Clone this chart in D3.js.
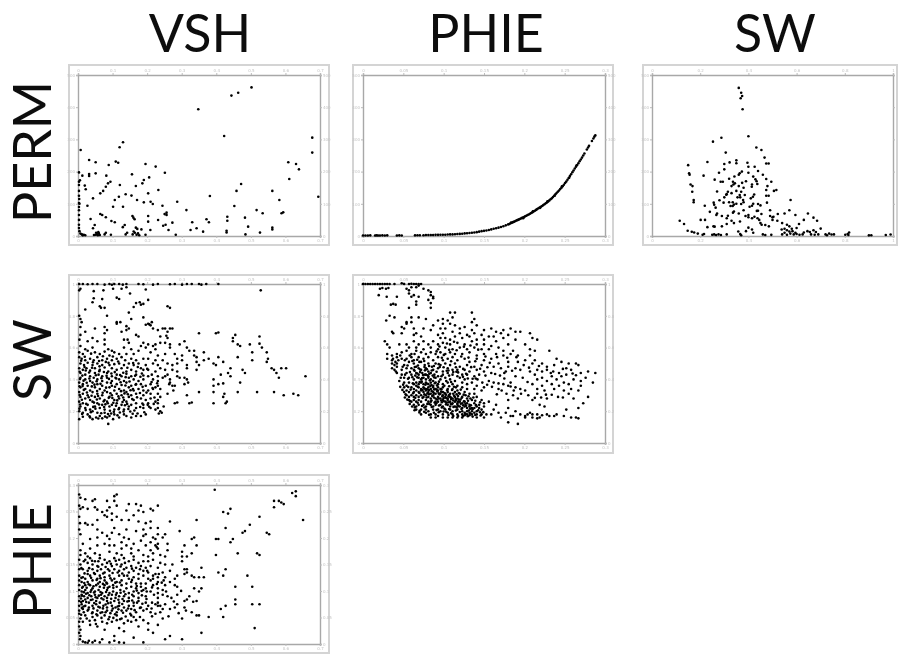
<!DOCTYPE html>
<html>
<head>
<meta charset="utf-8">
<script src="https://cdnjs.cloudflare.com/ajax/libs/d3/7.8.5/d3.min.js"></script>
<style>
  body { margin: 0; background: #fff; }
  .title { font-family: Lato, sans-serif; font-size: 52px; fill: #111; }
  .tick text { font-family: "DejaVu Sans", sans-serif; font-size: 4px; fill: #c4c4c4; }
</style>
</head>
<body>
<div id="chart"></div>
<script>
// all values are percent of the axis range
let columnNames = ["VSH", "PHIE", "SW"];
let rowNames = ["PERM", "SW", "PHIE"];

let vshTicks = ["0", "0.1", "0.2", "0.3", "0.4", "0.5", "0.6", "0.7"];
let phieTicks = ["0", "0.05", "0.1", "0.15", "0.2", "0.25", "0.3"];
let swTicks = ["0", "0.2", "0.4", "0.6", "0.8", "1"];
let permTicks = ["0", "100", "200", "300", "400", "500"];

let permVsh = [[71.7,92.3],[66.2,89],[63.4,87.2],[49.7,78.7],[60.4,62.1],[96.8,61.1],[96.8,51.8],[18.6,58.2],[17.2,55.1],[1.1,53.4],
[4.6,47.2],[7.3,45.8],[15.6,46.2],[16.6,45.5],[12.7,44.1],[27.9,44.7],[32.1,43.1],[86.9,45.8],[90.1,44.7],[91.3,41.4],[35.9,39.3],[22.3,38.3],
[4.6,38.5],[7.3,38.9],[1.8,37.5],[0.4,39.5],[11.7,37.5],[4.6,37.3],[87.3,35.4],[29.4,36.4],[27.2,34.8],[26.6,32.7],[13.4,33.7],[12.4,32.7],
[0.4,33.7],[0.4,31.7],[0.8,34.6],[2.8,31.3],[17.3,31.7],[23.9,31.1],[11.5,30.6],[67.4,32.3],[3.2,29],[10.4,28],[9.2,26.5],[33.2,28.6],[65.5,28],
[80.3,28],[29,26.5],[19.7,25.9],[22.1,25.1],[54.5,24.8],[99.3,24.4],[16.9,24.4],[6.2,23.4],[0.4,25],[83.2,22.4],[15.2,22.4],[24.4,22.4],
[27.2,20.9],[30,21.3],[30.9,19.9],[41,21.3],[14.5,18.2],[18.6,18.2],[3.9,18.8],[0.4,20.5],[0.6,20],[34.9,18.8],[64.6,18.6],[44.8,16.1],[73.8,16.1],
[76.3,14.1],[84.1,14.1],[84.8,14.7],[36.6,14.5],[36.6,13],[35.8,13.6],[9.2,13.7],[10,13],[11.5,11.6],[22.5,12.4],[23.4,10.4],[22.9,11.4],[29,12.4],[61.7,12],
[61.7,9.5],[69,11.4],[5.2,10.6],[13.8,9.3],[15.2,8.5],[29,8.9],[33.1,9.9],[39,8.3],[47.2,8.5],[53.1,10.4],[54.1,8.5],[6.9,6.8],[6.2,4.8],[19.3,6.8],
[18.5,5.5],[23.9,5.2],[24.5,4.4],[26.2,4.1],[29.9,3.7],[35.2,6.4],[36.2,7],[37.4,3.7],[46.5,3.7],[49,4.8],[51.7,2.7],[61.4,3.3],[61.4,2.2],[70.3,5.8],
[80.3,5.2],[80.3,4],[75.2,2.1],[69.2,1],[0.4,16],[0.4,13],[0.4,10],[0.4,7],[0.4,5],[0.6,3],[1,1.5],[1.6,1],[2.4,0.8],[3,0.5],[2,0.4],[6.6,0.6],[7.2,0.8],
[7.9,1],[8.2,0.5],[8.6,1.6],[7.5,2],[8.4,2.4],[9,0.6],[11,1],[11.5,2],[13.6,0.8],[19.7,1],[20.3,2],[22.6,1],[23.5,2],[24.2,0.8],[24.8,1.6],[25.3,0.5],[23,2.8],
[27.9,0.8],[40.4,0.8],[0.4,28],[0.5,23],[0.4,18]];

let permPhie = [[0,0.3],[1,0.3],[2,0.3],[3,0.4],[5,0.3],[5.6,0.4],[6.2,0.3],[7,0.3],[8,0.4],[9,0.3],[10,0.4],[14,0.3],[15,0.4],[16,0.3],
[21.5,0.4],[22.5,0.5],[23.5,0.5],[25,0.5],[26,0.6],[27,0.6],[28,0.6],[29,0.6],[30,0.7],[31,0.7],[32,0.8],[33,0.8],[34,0.8],[35,0.9],[36,1],[37,1],[38,1.1],
[39,1.2],[40,1.3],[41,1.4],[42,1.6],[43,1.7],[44,1.9],[45,2],[46,2.2],[47,2.4],[48,2.7],[49,3],[50,3.2],[51,3.4],[52,3.7],[53,4.1],[54,4.5],[55,4.8],[56,5.2],
[57,5.6],[58,6.1],[59,6.6],[60,7.2],[60.5,7.5],[61,7.9],[61.5,8.2],[62,8.6],[62.5,8.9],[63,9.3],[63.5,9.7],[64,10],[64.5,10.3],[65,10.7],[65.5,11.1],[66,11.4],[66.5,11.8],
[67,12.2],[67.5,12.6],[68,13],[68.5,13.4],[69,13.8],[69.5,14.3],[70,14.7],[70.5,15.2],[71,15.7],[71.5,16.2],[72,16.7],[72.5,17.2],[73,17.7],[73.5,18.1],[74,18.6],[74.5,19.2],
[75,19.7],[75.5,20.3],[76,20.8],[76.5,21.5],[77,22.1],[77.5,22.8],[78,23.4],[78.5,24.2],[79,25],[79.5,25.9],[80,26.7],[80.5,27.5],[81,28.3],[81.5,29.2],[82,30],[82.5,30.9],
[83,31.8],[83.5,32.9],[84,33.8],[84.5,34.9],[85,36],[85.5,37.2],[86,38.4],[86.5,39.6],[87,40.7],[87.5,41.9],[88,43],[88.5,44.1],[89,45.2],[89.5,46.4],[90,47.5],[90.5,48.7],
[91,50],[91.5,51.2],[92.5,53.7],[93,55],[93.4,56],[94.6,59],[95.2,60.6],[95.6,61.7],[96,62.5],[70.2,15.3],[73.2,17.5],[76.2,21.5],[79.2,25],[82.2,30.8],[85.2,36.2],[88.2,43.8],[66.2,11],[61.2,8.4]];

let permSw = [[36,92],[37,89],[37.4,87],[36.8,85.6],[37.6,78.7],[40,62],[28.8,61],[25.3,58.6],[30.6,51.8],[43.3,55],[45.4,53.4],[46.7,48.7],[47.4,45],[48.4,45],
[23,46],[15,44],[30,44.7],[32.2,45.7],[35,47],[35,45.2],[39.6,45.5],[42.6,43],[15.4,39],[15.6,38],[27.8,39.3],[21.4,37.5],[30,41.4],[36.4,39],[37.3,40],[36,38],
[40,39.3],[42,36.9],[42.9,35.2],[43.4,34],[47.4,35.4],[49.5,33.7],[28.5,33.7],[29.4,33.7],[33.6,33.7],[34.4,32.7],[33.8,32],[16,32],[16.8,31],[41.5,32],[43.7,32.3],
[41.4,30.6],[47.9,31],[47.4,28.6],[51.6,28.6],[50.6,28],[16.7,27.5],[31.5,27.5],[30.8,25.6],[35,28],[36.4,25.5],[38.5,25.5],[41.9,24.4],[41,23.4],[47.4,25],[48.4,25],
[17.3,22.4],[17.3,21],[57.5,22.4],[25.6,20.7],[25.8,19.4],[29.7,20.7],[37.8,22.4],[37,19.9],[38,21],[41.5,18.8],[40.5,18.2],[47.7,20.7],[21.9,18.8],[26.4,17.6],[32.6,18.6],
[33.5,18.6],[33.5,21],[44,19.9],[45,19],[57,16],[55,14],[49,16],[64.7,14],[26.7,13],[29,12.4],[31.5,12.6],[33.6,14.5],[44,15.7],[45.4,13.7],[49,12.4],[50.4,12],
[52.2,13.7],[59.5,13],[67,11.4],[68.5,9.5],[11.5,9.5],[13.3,7.5],[20.2,10],[40,11.6],[41.5,11],[42.5,12],[43.8,11],[44.5,10],[50,11.6],[50,10],[52,9.5],[54,8],
[56,7],[61,7.5],[63,10],[33,9.5],[34,8],[36.5,9],[31,7.5],[25.5,6],[45,8],[45.5,7],[47,6.8],[48.5,6],[57,6],[60,5],[58,4.5],[55,4.5],[53.8,4],[56,3.6],[57,2.8],
[58.3,3],[57.4,1.5],[58.8,1],[60,1.2],[61.2,0.8],[62.5,1],[59.5,2],[55,2],[54,1],[56,0.8],[63,2.2],[64.5,3],[65.5,2.5],[67,3.6],[68,2.5],[66,1],[67.5,0.8],[70,4.6],
[69,1],[72,1],[73.5,1.5],[74.5,0.9],[75.5,1],[72.6,0.5],[80.2,0.8],[81.2,1.2],[81.8,2.2],[81.5,0.6],[91,0.5],[90,0.4],[97,0.6],[99,0.9],[14.8,3.3],[16.5,2.6],[17.5,2.2],
[21,0.8],[21.6,1.2],[25,0.8],[25.8,1],[26.6,0.6],[27.6,1],[28.6,0.6],[35.8,2.8],[36.6,1.2],[37,0.5],[41.5,4],[46,1],[47,0.6],[49.5,0.7],[31,1],[19,1.5],[23,5.5],[26,5.8],
[40,5.2],[39,3],[42,2],[31,11],[29,6],[27,14],[24,15],[22,10],[38,16],[36,14],[34,15.2],[40,13],[38.8,12.4],[35,20],[42.4,25.8],[38,30],[36,31],[33,31],[30,24],[31,26],
[28,22.2],[35.5,24],[37,27.5],[33,26.6],[39,34],[32,35.6],[34.2,37],[26,35],[27,27.6],[44,40.4],[46,38],[40,43],[37.4,33],[36.6,24],[32,21],[34,19.5],[42,20],[43.5,15.6]];

let swVsh = [[0.5,100],[2,100],[4,99.8],[6,100],[8,100],[11,99.6],[13,100],[14,99.5],[15,100],[17,100],[18.5,99.6],[20,100],[25,100],[27,99.8],[31,99.6],[33,100],[38,99.8],
[40,100],[43,99.6],[45,100],[47,100],[50,100],[51,99.6],[53,100],[58,100],[0.5,96],[1,97],[6.5,95.5],[10.5,96],[14.5,97],[18,97],[20,98],[21.5,94],[28,96.5],[75.5,96],
[6.5,91],[10,90.5],[6,88.5],[9,86],[16,91.4],[17,90.6],[24,88],[25.5,88.5],[26,87],[27,87.5],[29,90],[37,86],[38,85],[3,84],[9.5,85],[11,85],[23,85.5],[12,80],[21,82],
[0.5,80],[1,78],[1.5,76],[16,76],[17.5,76],[22,78],[27,79],[28,74.4],[29,75],[29.5,74.6],[30.5,76],[16,75],[20,73.5],[30,74],[21,72],[31,72],[1,73],[11,73],[12,71],[33,71],
[35,72],[36,72],[38,72],[39,72],[7,72],[3,70],[1,68],[11,69],[18,70],[20,71],[24,68],[37,70],[50,69],[57,69],[58,69.5],[65,68],[75,67],[25,67],[34,67],[37,66],[36.5,67.5],
[4,64],[6,66],[0.6,65],[8,64],[11,65],[19,65],[20.5,65],[21,63],[27,63],[29,62],[32,62],[34,63],[36,63],[38,62],[44,64],[42,62],[64,66],[66,62],[71,62],[75,62.5],
[1,61],[3,59],[6,60],[11,62],[12.5,59],[14,58],[19,60],[22,59],[26,61],[28,60],[31,61],[32,59],[38,60],[45,60],[46,58],[64,64],[67,61],[72,57],[76,60],[78,57],[48,58],[52,57],
[0.5,57],[2,56],[4,58],[7,57],[9,56],[11,57.5],[13,55],[15,57],[17,56],[20,56],[23,56],[25,58],[30,57],[33,55],[36,56],[40,56],[43,55],[48,55],[49,54],[52,52],[54,53],[58,54],
[0.5,54],[1.5,53],[3,52],[5,53],[6.5,52],[8,54],[10,52],[12,53],[14,52],[16,53],[18,54],[19.5,52],[22,53],[24,52],[27,53],[29,53],[32,52],[35,52],[41,53],[43,52],[49,51],[50,49],
[66,54],[72,52],[78.5,53],[78,51],[1,50],[2.5,49],[4,50.5],[6,49],[8,50],[10,49],[11.5,51],[13,49],[15,49.6],[17,50],[19,49],[21,50],[23,49],[25,50],[28,49],[31,50],[33,49],
[37,50],[39,49],[41,50],[45,49],[56,50],[57,49],[63,47],[60,51],[0.5,47],[2,46],[3.5,47],[5,45.5],[7,47],[9,46],[11,47.5],[12.5,45],[14,47],[16,46],[18,47],[20,45],[22,46],
[24,45],[26,47],[27,46],[29,46],[32,45],[34,47],[36,46],[39,46],[41,45],[45,47],[49,46],[68,46],[69,44],[81,46],[82,44],[84,47],[86,47],[80,47],[1,44],[3,43],[5,42],[7,44],
[8.5,43],[10,42],[12,44],[14,42],[16,43],[18,42],[20,43.5],[22,42],[24,43],[27,42.5],[29,42],[30.5,43],[33,42],[36,42],[37,43],[41,42],[42,41],[59,43],[62,44],[83,41],[1,41],
[3,40],[5,39],[6.5,41],[8,40],[10,39],[12,41],[14,39],[15.5,41],[17,40],[19,39],[21,41],[23,40],[25,39],[27,40],[31,40],[33,39],[35,41],[38,40],[44,41],[56,40],[63,42],[94,42],
[0.5,38],[2,37],[4,36],[6,38],[8,37],[10,36],[12,38],[14,36],[16,37],[18,36.5],[20,38],[22,36],[24,37],[26,37],[28,36],[30,37],[32,35],[33,36],[38,38],[39,36],[45,40],[45.5,38],
[1,35],[3,34],[5,33],[7,35],[9,34],[11,33],[13,35],[15,33],[17,34],[19,33],[21,35],[23,33],[25,34],[27,33],[29,33],[31,34],[34,34],[37,31],[40,36],[44,37],[56,36],[58,37],[60,37.5],
[67,38],[0.5,32],[2,31],[4,30],[6,32],[8,31],[10,30],[12,32],[14,30],[16,31],[18,30],[20,32],[22,30],[24,31],[27,30],[30,31],[33,31],[50,32],[56,32],[60,29],[60.5,31],[1,29],
[3,28],[5,27],[7,29],[9,28],[11,27],[13,29],[15,27],[17,28],[19,27],[21,29],[23,27],[26,28],[28,27],[30,28],[33,27],[34,29],[45,30],[66,32],[74,32],[81,32],[85,30],[89,31],[91,30],
[0.5,26],[2,25],[4,24],[6,26],[8,25],[10,24],[12,26],[14,24],[16,25],[18,24],[20,26],[22,24],[24,25],[27,24],[29,25],[32,26],[33,25],[40,25],[41,25.5],[46,25],[47,25.5],[56,25],[61,25],
[61.5,26],[1,23],[3,22],[5,21],[7,23],[9,22],[11,21],[13,23],[15,21],[17,22],[19,21],[21,23],[24,22],[27,22],[30,22],[32,21],[33,22],[34,20],[0.5,20],[2,19],[4,18],[6,20],[8,19],
[9,17],[11,19],[13,17],[15,18],[17,16],[19,18],[20,17],[22,16],[24,17],[26,17],[28,18],[2,16.5],[5,16],[6,15],[7.5,16],[10,15.5],[12,16],[14.5,15],[12.5,12],[0.5,15]];

let swVshDense = [[1.3,51.7],[2.7,47.8],[4.6,44.3],[6.2,50.8],[7.4,42.6],[8.9,48.2],[10.7,44.7],[12.8,40.3],[1.8,42.4],[3.6,37.9],[5.7,35.6],[7.9,32.7],[9.3,37.2],[11.6,34.8],[13.4,31.3],
[15.2,44.6],[17.6,38.2],[19.7,41.4],[2.4,33.4],[4.4,28.8],[6.6,25.4],[8.3,29.6],[10.6,26.2],[12.7,28.4],[14.6,25.3],[16.7,29.3],[18.4,25.8],[20.6,30.7],[22.7,33.9],[24.4,28.7],[1.6,27.2],
[3.4,24.6],[5.3,19.4],[7.2,21.6],[9.6,18.7],[11.3,24.3],[13.2,20.3],[15.7,23.4],[17.3,19.2],[19.4,23.7],[21.6,19.8],[23.3,20.4],[25.7,22.6],[27.4,19.3],[3.2,20.7],[1.7,18.3],[4.8,16.8],
[8.4,15.4],[11.2,16.6],[13.7,18.6],[16.3,17.4],[2.8,54.2],[5.4,56.2],[8.7,51.6],[10.3,54.6],[12.6,50.4],[14.4,54.4],[16.6,51.3],[18.7,44.2],[20.4,47.3],[22.8,50.3],[24.7,47.8],[26.4,43.7],[28.6,46.6],
[30.4,38.4],[26.7,35.3],[28.3,31.7],[31.6,28.6],[29.4,22.8],[4.7,40.6],[6.8,36.7],[2.3,39.2],[9.7,40.8],[13.6,37.7],[15.3,35.4],[17.8,32.6],[19.6,36.2],[21.7,33.2],[23.8,36.6],[25.6,31.4],
[3.7,31.8],[5.6,29.7],[7.8,27.4],[10.2,31.6],[12.3,25],[14.2,28.3],[16.2,26.8],[18.7,28.6],[20.3,24.6],[22.4,27.6],[0.7,44.8],[0.8,40.2],[0.6,35.7],[0.7,30.2],[0.9,24.2],[0.6,21.6],
[1.9,35.8],[3.2,45.6],[5.8,47.3],[7.7,38.8],[8.8,45.2],[11.8,42.3],[13.8,43.7],[15.8,40.6],[17.4,42.8],[19.2,31.2],[21.3,38.7],[23.6,42.3],[25.8,41.7],[6.3,22.7],[8.7,24.2],[10.8,22.6],[12.4,18.2],
[14.8,19.6],[16.8,21.2],[18.8,19.8],[20.8,21.4],[22.6,18.4],[24.6,18.6],[26.6,24.8],[28.8,24],[31.3,24.6],[33.4,18.6],[34.6,19],[35.4,23],[37.7,37],[39.4,33],[30.8,34.6],[32.7,37.6]];

let swPhie = [[0,100],[1,100],[2,100],[3,100],[4,100],[5,100],[6,100],[7,100],[8,100],[9,100],[10,100],[11,100],[13,100],[16,100.5],[17,100],[19,100],[20,100.2],[21,100],[22,100],[23,100],[24,100],
[7,97],[8,97.5],[9.5,97],[10.5,97.5],[18,97],[19,96],[20,98],[22,98],[23,99],[25,97],[27,96],[28,95],[6.5,93],[9.8,92],[14,92],[19,94],[20,92],[21,93],[23,92],[28,93],[29,92],[29,91],[27,90],
[22,89],[22,87],[11.5,87],[12.5,87.5],[13.5,87],[19,85],[28,88],[28,85],[38,82],[45,82],[11,80],[9.6,77],[13,79],[20,79],[20,76],[23,79],[26,78],[36,82],[37,79],[35,77],[33,78],[31,77],[46,78],[45,76],
[18,76],[18,75],[17,72],[16,73],[33,75],[36,75],[29,74],[32,72],[34,72],[38,74],[40,72],[42,73],[45,71],[47,74],[50,71],[53,72],[55,70],[58,71],[61,72],[63,70],[65,70],[69,69],[12,70],[12.5,69],[21,72],
[22,69],[25,72],[28,71],[31,68],[33,69],[37,70],[40,69],[43,68],[46,69],[49,68],[52,67],[54,67],[57,69],[60,68],[16,69],[21,68],[24,67],[32,66],[34,66],[36,65],[38,67],[41,66],[44,67],[47,65],[50,65],
[55,64],[58,66],[63,65],[70,66],[72,65],[9,64],[10,62],[11,60],[15,62],[18,62],[21,64],[23,62],[25,64],[27,62],[29,64],[31,62],[33,63],[36,62],[39,63],[42,62],[45,64],[47,62],[50,62],[53,61],[56,60],
[60,62],[67,62],[19,60],[22,60],[25,59],[28,60],[31,59],[34,60],[37,59],[40,60],[43,59],[46,60],[49,59],[52,59],[58,58],[62,58],[69,59],[71,58],[77,58],[10,56],[12,55],[14,56],[16,57],[18,58],[20,56],
[22,58],[24,57],[26,56],[28,57],[30,56],[32,57],[34,56],[36,57],[38,56],[41,56],[44,57],[47,55],[50,56],[55,56],[58,55],[61,56],[64,55],[69,55],[10,53],[12,52],[14,54],[16,53],[18,53],[20,54],[21,52],
[23,54],[25,53],[27,54],[29,52],[31,54],[33,52],[35,53],[37,54],[39,52],[42,53],[44,51],[47,53],[50,52],[53,53],[56,50],[60,51],[64,51],[67,52],[71,52],[74,50],[80,53],[82,51],[85,50],[88,50],[12,50],
[13,49],[14,50],[17,49],[19,51],[21,50],[22,48],[24,51],[25.5,49],[27,50],[28.5,48],[30,50],[32,49],[34,50],[36,49],[38,50],[40,48],[43,49],[46,48],[49,49],[54,48],[57,47],[60,48],[63,47],[70,50],[76,48],
[79,49],[84,47],[89,49],[12,47],[13,46],[14,48],[16,46],[18,47],[20,47],[21,46],[23,47],[24,46],[26,47],[27,45],[29,46],[31,47],[33,45],[35,47],[37,46],[39,46],[42,46],[44,45],[47,46],[50,45],[59,45],[65,46],
[69,45],[72,46],[76,46],[86,46],[90,44],[93,45],[96,44],[14,44],[16,43],[18,44],[20,43],[22,44],[23,43],[24.5,44],[26,43],[27,42],[28,44],[29.5,43],[31,42],[33,43],[35,44],[37,43],[39,42],[41,43],[43,43],
[46,42],[48,43],[63,42],[71,43],[74,41],[78,42],[82,42],[84,43],[17,41],[19,41],[21,40],[23,41],[24,40],[25,41],[26,40],[27,41],[28,40],[29,39],[30,41],[32,40],[34,41],[36,40],[38,39],[40,41],[42,40],[52,39],
[54,38],[56,37.5],[58,37],[60,36],[61,35.5],[63,35],[65,34],[67,33],[72,40],[76,39],[80,40],[83,38],[85,37],[87,40],[90,39],[15,39],[17,38],[19,38],[21,37],[22,38],[23,37],[24,38],[25,37],[26,38],[27,37],[28,38],
[29,36],[30,38],[31,37],[33,37],[35,38],[37,37],[39,36],[41,38],[43,37],[45,38],[47,36],[61,38],[70,37],[74,36],[78,37],[81,36],[86,34],[90,36],[17,35],[18,36],[20,35],[21,34],[22,36],[23,35],[24,34],[25,35],
[26,34],[27,35],[28,34],[29,35],[30,34],[31,35],[32,34],[33,35],[35,34],[37,34],[39,33],[41,35],[43,34],[46,34],[49,33],[50,35],[56,34],[72,34],[75,33],[79,34],[83,33],[89,33],[17,32],[18,33],[19,32],[21,32],
[22,33],[23,32],[24,33],[25,32],[26,33],[27,32],[28,31],[29,32],[30,31],[31,33],[32,31],[33,32],[34,31],[35,32],[36,31],[38,32],[40,31],[42,32],[44,31],[46,31],[62,30],[72,31],[85,31],[93,29],[18,30],[19,29],
[20,30],[21,29],[22,30],[23,29],[24,30],[25,29],[26,30],[27,29],[28,28],[29,30],[30,28],[31,29],[32,28],[33,30],[34,29],[35,28],[36,29],[37,28],[38,29],[39,28],[41,29],[43,28],[45,27],[47,29],[49,27],[60,27],
[64,28],[70,27],[76,28],[19,27],[20,26],[21,27],[22,26],[23,27],[24,26],[26,27],[27,26],[28,26],[30,26],[31,26],[33,27],[34,26],[35,27],[36,26],[37,25],[38,26],[39,25],[40,26],[41,25],[42,26],[43,25],[44,24],
[46,25],[48,24],[50,25],[52,26],[55,24],[73,24],[75,23],[89,22],[91,25],[21,24],[22,23],[23,24],[25,24],[26,23],[28,24],[29,23],[30,24],[32,24],[33,23],[35,24],[36,23],[38,23],[39,24],[40,23],[41,22],[42,23],
[43,22],[44,23],[45,22],[46,22],[47,23],[48,22],[50,23],[60,22],[84,21],[22,21],[24,21],[26,21],[27,20],[29,21],[31,21],[32,20],[34,21],[36,21],[37,20],[39,21],[40,19.5],[41,20],[42,19],[43,20],[44,19],[45,20],
[46,19],[47,20],[49,21],[54,21],[59,19],[63,20],[65,18],[69,19],[24,18],[26,19],[28,18],[30,18],[33,18],[35,19],[37,18],[39,18],[41,18],[42,17.5],[43,18],[44,17.5],[45,18],[47,18],[49,18],[51,18],[53,18],[56,19],
[62,17],[67,17],[68,18],[70,18],[72,18],[74,17.5],[76,18],[77,17],[79,17],[80,18],[83,17],[86,16],[88,16],[89,15.5],[28,16],[30,16],[31,17],[33,16],[35,16],[37,16],[39,16],[41,16],[47,16],[50,16],[67,16],[70,16],
[72,15.5],[73,16],[60,13],[64,12],[57,16],[61,17]];

let swPhieDense = [[20.4,51.6],[22.7,48.7],[21.3,45.4],[23.6,46.2],[24.8,42.8],[22.4,41.3],[25.6,45.7],[26.7,42.6],[27.6,39.4],[28.8,42.4],[29.7,37.6],[24.3,38.6],[25.8,36.6],[26.6,33.7],[27.8,35.8],
[28.4,32.6],[29.4,33.7],[30.6,36.2],[30.7,32.4],[31.6,30.6],[32.4,33.8],[32.8,29.4],[33.7,31.4],[34.4,28.3],[34.8,33.2],[35.6,30.2],[36.4,27.6],[36.8,33.3],[37.6,29.7],[38.4,26.8],[38.7,30.6],[39.6,27.3],
[40.4,24.7],[40.8,28.4],[41.7,26.2],[42.6,23.4],[43.4,26.6],[44.6,23.7],[45.3,21.2],[46.7,23.8],[47.6,20.6],[48.4,19.3],[49.7,19.4],[43.7,20.4],[42.4,18.2],[44.4,18.6],[46.4,17.6],[48.6,17.3],[40.7,21.4],[38.7,22.4],
[36.7,24.4],[34.6,25.4],[32.6,25.6],[30.6,27.4],[28.6,29.6],[26.6,31.2],[24.6,33.4],[22.6,35.4],[20.6,37.6],[18.6,40.4],[19.7,33.6],[20.7,31.3],[21.6,28.4],[22.6,25.3],[24.4,23.3],[26.6,24.6],[28.4,22.6],[30.4,20.7],
[32.6,22.4],[34.4,19.7],[36.4,18.7],[38.4,20.4],[18.7,35.2],[17.6,30.6],[19.4,26.4],[21.4,22.4],[23.4,20.2],[25.4,22.3],[27.4,24.6],[29.6,25.4],[31.4,23.6],[33.6,21.7],[35.6,21.4],[37.4,22.7],[39.4,23.2],[41.4,23.7],
[25.4,30.6],[27.3,30.7],[29.3,28.6],[31.3,28],[33.3,26.4],[35.4,25.6],[37.3,26.7],[39.3,26],[23.3,31.4],[24.6,28.4],[26.3,28.6],[28.3,26.7],[30.3,25],[32.3,26.7],[34.3,24.3],[36.3,24.6],[22.4,43.7],[24.4,40.8],[26.3,37.4],
[28.3,36.4],[30.4,33.6],[32.3,32.3],[34.3,30.3],[36.3,28.6],[38.3,27.6],[40.3,27.4],[42.3,24.6],[44.3,21.6],[23.4,38.3],[25.4,34.2],[27.3,33.3],[29.3,31.2],[31.3,31.2],[33.3,28.2],[35.3,29.3],[37.3,31],[39.3,29.6],
[21.6,42.4],[23.6,44.6],[25.6,43],[27.4,43.6],[29.4,41.3],[31.4,38.6],[33.6,36],[35.6,35.7],[37.6,35.4],[39.6,31.4],[41.6,30.4],[43.6,29.4],[45.6,28.6],[20.4,41.4],[21.4,47.8],[22.4,52.4],[25.4,47.8],[26.4,46.4],[28.4,45.6],
[30.4,44.8],[32.4,42],[34.4,39],[36.4,38.4],[38.4,35],[40.4,33.6],[42.4,30],[44.4,28],[46.4,26.6],[48.4,25.6],[19.4,44.6],[18.4,48.7],[17.4,43],[16.4,48],[15.6,41],[16.6,36.7],[15.4,35.3],[16.3,33.4],[17.3,28.6],[18.3,27.3],
[19.3,24.6],[20.3,23],[21.3,20.6],[23.3,19.2],[25.3,19.6],[27.3,17.7],[29.3,19],[31.3,19.3],[33.3,19.8],[35.3,17.6],[37.3,17],[39.3,17],[41.3,17],[43.3,16.8],[45.3,16.6],[13.6,45],[13.4,51],[12.4,53],[14.6,52],[15.4,55],
[17.3,52],[19.3,55],[21.3,56],[23.3,51],[25.3,51.6],[27.3,48.4],[29.3,48.4],[31.3,49.6],[33.3,47.6],[35.3,45.6],[37.3,44.6],[39.3,44.4],[41.3,41.6],[43.3,40.6],[45.3,40.4],[47.3,40],[49.3,38],[51.3,36.6],[53.3,35.3],[55.3,30.6],
[57.3,33],[59.3,31],[62.3,33],[65.3,31],[68.3,30],[71,28.4],[73.6,28.6],[75.6,30.4],[78,30.3],[80.6,29],[82.6,28.6],[87,28],[66,41],[68,38.4],[58.4,40.6],[56.6,42.4],[53,44],[51.4,47.6],[74,45],[78.6,45],[81,44],[88,42.6],[92,41],[95,38],
[31.6,60.7],[34.7,62.6],[37.6,63.7],[30.4,57.6],[33.4,55.4],[35.6,58.6],[38.7,58.3],[41.7,60.6],[44.4,61.3],[47.6,58.7],[32.6,53.6],[36.4,51.4],[40.6,54.4],[43.6,53.7],[46.4,51.4],[50.6,54.4],[31.7,47.8],[34.6,45.4],[38.4,47.6],
[41.4,46.6],[44.7,47.7],[48.4,46.7],[52.4,50.4],[35.6,42.4],[38.6,44.8],[42.6,43.6],[46.6,40.6],[50.6,42.4],[54.6,43.4],[58.4,44],[61.6,45.4],[55.4,54],[59.6,53.6],[63.4,54],[66.4,49],[68.6,47.4],[72.7,48.4],[77.6,44],[82.6,46.6],[86.6,43.7]];

let phieVsh = [[56.5,97],[0.5,94],[1,92],[3,91],[6,90],[7,91],[15,93],[16,94],[12,90],[15,90],[88.5,95],[90,96],[90,93],[81,90],[83,90],[84,89],[85,88],[81,86],[0.5,87],[1,85],[2,86],[4,85],[7,86],[8,84.5],
[12,84],[13,86],[16,87],[21,88],[24,88],[26,87],[33,87],[30,85],[25,84],[10,83],[11,81],[12,80],[14,82],[16,80],[20,84],[23,81],[27,83],[31,84],[63,85],[62,82],[60,83],[75,80],[71,75],[93,78],[0.5,80],[0.8,76],
[3,76],[4,75],[6,75],[8,78],[14,78],[18,78],[21,78],[25,77],[28,76],[30,77],[38,77],[49,78],[61,73],[69,71],[68,70],[78,70],[79,69],[0.5,72],[1,69],[8,72],[10,70],[14,70],[15,73],[20,72],[24,71],[27,72],[30,73],
[33,73],[42,71],[58,66],[8,67],[12,68],[17,69],[19,67],[27,68],[28,69],[31,67],[33,69],[35,67],[36,69],[47,66],[48,67],[57,66],[64,66],[2,63],[5,66],[13,66],[18,64],[21,66],[23,63],[26,65],[32,66],[30,64],[32,62],
[33,63],[37,63],[44,62],[49,62],[63,64],[1,59],[5,60],[8,62],[11,63],[13,62],[15,62],[18,60],[20,62],[22,60],[25,59],[28,62],[30,59],[33,60],[32.5,61],[37,59],[43,58],[47,57],[66,57],[75,56],[74,57],[1,56],[3,57],
[4,55],[7,57],[9,56],[13,58],[16,57],[18,56],[22,57],[23,55],[27,56],[29,55],[31,57],[34,56],[36,55],[43,55],[45,55],[57,56],[0.5,53],[3,53],[5,54],[7,52],[9,54],[11,53],[13,52],[15,54],[17,53],[19,54],[21,52],
[23,53],[25,51],[27,52],[29,52],[31,53],[34,51],[39,50],[43,52],[45,47],[1,50],[4,51],[6,50],[8,49],[10,50],[12,51],[14,49],[16,50],[18,50],[20,48],[22,49],[24,48],[26,49],[28,48],[30,49],[33,48],[36,50],[44,44],
[45,45],[51,48],[58,45],[61,47],[0.5,47],[2,47],[4,46],[6,47],[8,46],[9.5,47],[11,45],[13,46],[15,47],[17,46],[19,47],[21,45],[23,46],[25,44],[27,46],[29,45],[32,44],[35,45],[38,46],[44,47],[50,42],[52,42],[60,43],
[70,43],[0.5,43],[2,42],[4,44],[5,43],[7,44],[9,43],[11,42],[13,43],[15,41],[17,43],[19,43],[21,41],[23,42],[25,41],[27,43],[29,41],[31,43],[33,42],[36,42],[40,41],[41,43],[47,43],[48,42],[0.5,40],[1.5,39],[3,41],
[4,39],[6,40],[8,41],[9,39],[11,40],[12,38],[14,40],[16,39],[18,40],[20,38],[22,39],[24,38],[26,38],[28,38],[30,40],[33,39],[36,37],[38,39],[40,37],[0.5,37],[2,36],[3,37],[5,37],[6,35],[7.5,37],[9,36],[11,37],[13,36],
[14.5,37],[16,36],[18,37],[20,35],[22,36],[24,35],[26,36],[28,35],[31,37],[33,35],[35,34],[41,36],[48,35],[51,35],[65,36],[72,36],[0.5,34],[1.5,33],[3,34],[4,32],[5.5,34],[7,33],[8.5,34],[10,32],[12,34],[13,32],[14.5,33],
[16,32],[17.5,34],[19,33],[21,32],[23,33],[25,32],[27,34],[30,33],[33,32],[37,30],[50,33],[0.5,30],[1.5,31],[2.5,30],[4,29],[5.5,30],[7,31],[8,29],[9.5,31],[11,30],[12,29],[14,31],[15.5,29],[17,30],[19,30],[21,29],[23,30],
[25,29],[28,30],[33,29],[35,31],[41,31],[45,28],[49,27],[65,28],[0.5,27],[2,27],[3,28],[4.5,26],[6,28],[7.5,27],[9,26],[10.5,28],[12,27],[13.5,26],[15,27],[17,26],[19,27],[21,27],[23,26],[25,27],[28,26],[32,25],[33,26],
[36,25],[41,25],[44,27],[59,22],[61,24],[0.5,24],[1.5,25],[3,24],[4.5,23],[6,24],[7.5,25],[9,23],[10.5,24],[12,23],[14,24],[15.5,23],[17,24],[19,23],[21,24],[23,24],[26,23],[29,24],[33,24],[38,22],[40,23],[44,23],[65,25],
[72,25],[75,25],[0.5,21],[2,22],[4,21],[6,20],[8,21],[10,20],[12,21],[14,21],[16,20],[18,21],[20,21],[22,22],[24,20],[27,21],[30,20],[32,19],[34,20],[35,22],[47,20],[49,18],[50,18],[54,17],[60,17],[0.5,19],[3,18],[6,17],[8,18],
[11,18],[13,17],[16,18],[18,16],[22,18],[23,17],[35,16],[43,16],[1,16],[2,14],[7,15],[10,14],[12,13],[14,14],[16,15],[19,13],[22,14],[24,15],[27,15],[29,13],[33,12],[0.5,14],[0.5,11],[1,9],[5,12],[8,11],[11,9],[17,10],[19,8],
[25,11],[29,9],[31,7],[0.5,7],[1,5],[0.8,3],[2,1.5],[3,1],[4,0.8],[4.5,2],[6,1],[7,2],[9,1],[10,3],[13,1],[15,5],[15,2],[17,1],[19,0.8],[23,4],[27,1],[36,3],[38,5],[43,3],[51,7],[73,10]];

let phieVshDense = [[1.4,41.6],[2.6,38.3],[1.7,35.4],[3.6,35.4],[2.4,32.6],[4.7,30.7],[1.2,28.6],[3.4,26.4],[5.3,27.7],[6.6,32.4],[8.6,30.4],[6.7,25.8],[9.7,28.7],[11.6,32.7],[10.7,35.4],[12.6,30.8],[13.7,28.4],[11.4,24.8],[14.6,35.3],
[15.7,31],[16.7,27.8],[17.6,32.2],[18.4,28.3],[19.6,31.3],[20.4,26.7],[16.4,23.6],[18.3,25.2],[7.7,40.3],[9.3,41.4],[5.4,41.6],[11.7,38.7],[13.4,41.3],[15.4,38.6],[17.3,38.7],[2.3,23.6],[4.3,21.7],[6.4,22.4],[8.4,23.4],[10.3,22.4],
[12.4,25.6],[14.4,22.3],[16.7,21.8],[18.6,19.7],[20.7,22.3],[5.8,19.3],[7.6,18.7],[9.3,19.6],[11.4,20],[13.4,19.4],[15.3,18.7],[1.6,30.4],[3.3,31.6],[5.2,32.8],[7.3,29.4],[9.3,32.7],[6.4,36.3],[8.3,38],[10.3,37.8],[12.3,35.3],[4.4,37.6],
[2.7,44.4],[4.6,47.7],[6.6,44.6],[8.4,48.6],[10.4,44.3],[12.4,47],[14.3,44.7],[16.4,45],[18.3,44.3],[20.4,43],[22.3,40.3],[24.3,36.4],[26.3,33.3],[22.4,31],[24.3,33.6],[26.4,30.6],[28.3,28.3],[22.4,27.4],[24.4,26],[26.6,25.3],[30.6,26],[31.4,31],
[28.4,33],[30.6,35.6],[32.6,37.7],[34.6,38.6],[36.4,33],[38.6,29],[39.6,26.7],[42.6,33.4],[46,30],[47.6,26.6],[44.6,21],[41.6,19.4],[37.4,17.4],[34,24],[30.4,22.3],[28.4,22],[25.6,22.7],[23.4,21.3],[21.6,19],[19.7,17.3],[17.4,15.6],[14.6,16.4],[12.6,15.6],
[9.7,16.4],[7.4,12.6],[20.6,14.7],[25.6,17],[30.6,17.4],[1.4,47.7],[2.4,52],[5.8,52.4],[8.4,52],[11.4,48.4],[13.6,50.4],[15.6,52.3],[17.6,48.7],[19.4,51],[22.3,47.4],[25.6,47],[28.6,46],[31,41],[33.4,44],[35.4,40],[1.3,26.4],[1.6,22.7],[2.4,20],[1.3,18.4],[3.6,16],[4.8,14.6]];

let panels = [
  { x: vshTicks, y: permTicks, points: permVsh, outer: [69, 65, 260, 180], inner: [78, 75, 242, 161] },
  { x: phieTicks, y: permTicks, points: permPhie, outer: [353, 65, 260, 180], inner: [363, 75, 242, 161] },
  { x: swTicks, y: permTicks, points: permSw, outer: [643, 65, 254, 180], inner: [652, 75, 241, 161], noRightLabels: true },
  { x: vshTicks, y: swTicks, points: swVsh.concat(swVshDense), outer: [69, 275, 260, 178], inner: [78, 284, 242, 159] },
  { x: phieTicks, y: swTicks, points: swPhie.concat(swPhieDense), outer: [353, 275, 260, 178], inner: [363, 284, 242, 159] },
  { x: vshTicks, y: phieTicks, points: phieVsh.concat(phieVshDense), outer: [69, 475, 260, 178], inner: [78, 485, 242, 159] },
];

let svg = d3.select("#chart").append("svg")
  .attr("width", 898)
  .attr("height", 654);

// the source is a soft, low resolution screenshot
svg.append("filter").attr("id", "soft")
  .attr("x", "-5%").attr("y", "-5%").attr("width", "110%").attr("height", "110%")
  .append("feGaussianBlur").attr("stdDeviation", 0.6);

let titles = svg.append("g").attr("filter", "url(#soft)");

let titleX = [200, 486, 775];
titles.selectAll(".col").data(columnNames).enter().append("text")
  .attr("class", "title col")
  .attr("x", (d, i) => titleX[i])
  .attr("y", 52)
  .attr("text-anchor", "middle")
  .text((d) => d);

let titleY = [152, 360, 561];
titles.selectAll(".row").data(rowNames).enter().append("text")
  .attr("class", "title row")
  .attr("text-anchor", "middle")
  .attr("transform", (d, i) => `translate(51, ${titleY[i]}) rotate(-90)`)
  .text((d) => d);

panels.forEach(drawPanel);

function drawPanel(p) {
  let g = svg.append("g").attr("filter", "url(#soft)");
  let [ox, oy, ow, oh] = p.outer;
  let [ix, iy, iw, ih] = p.inner;

  g.append("rect")
    .attr("x", ox).attr("y", oy).attr("width", ow).attr("height", oh)
    .attr("fill", "none").attr("stroke", "#d4d4d4").attr("stroke-width", 2);

  let xScale = d3.scaleLinear().domain([0, 100]).range([ix, ix + iw]);
  let yScale = d3.scaleLinear().domain([0, 100]).range([iy + ih, iy]);

  let xVals = p.x.map((d, i) => (i * 100) / (p.x.length - 1));
  let yVals = p.y.map((d, i) => (i * 100) / (p.y.length - 1));

  let makeAxis = (axis, vals, labels) => axis
    .tickValues(vals)
    .tickSize(2)
    .tickPadding(1)
    .tickFormat((d, i) => labels[i]);

  g.append("g").attr("transform", `translate(0, ${iy + ih})`).call(makeAxis(d3.axisBottom(xScale), xVals, p.x));
  g.append("g").attr("transform", `translate(0, ${iy})`).call(makeAxis(d3.axisTop(xScale), xVals, p.x));
  g.append("g").attr("transform", `translate(${ix}, 0)`).call(makeAxis(d3.axisLeft(yScale), yVals, p.y));
  let right = g.append("g").attr("transform", `translate(${ix + iw}, 0)`).call(makeAxis(d3.axisRight(yScale), yVals, p.y));
  if (p.noRightLabels) {
    right.selectAll("text").remove();
  }
  g.selectAll(".domain").attr("stroke", "#a8a8a8").attr("stroke-width", 1.4);
  g.selectAll(".tick line").attr("stroke", "#bbb");

  g.selectAll("circle").data(p.points).enter().append("circle")
    .attr("cx", (d) => xScale(d[0]))
    .attr("cy", (d) => yScale(d[1]))
    .attr("r", 1.3)
    .attr("fill", "#000");
}
</script>
</body>
</html>
